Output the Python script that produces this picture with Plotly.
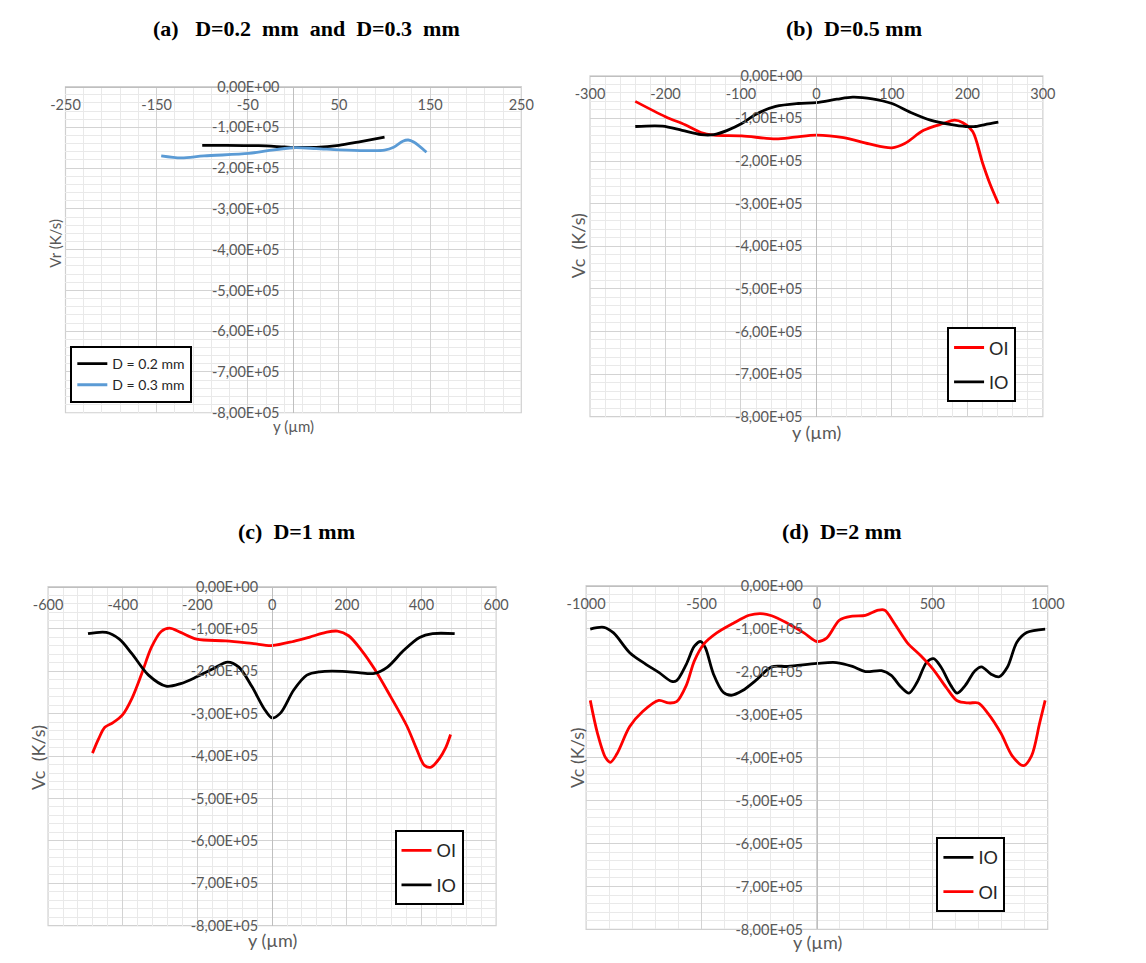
import plotly.graph_objects as go

W, H = 1146, 963

# ---- data: position y (µm) and cooling rate (K/s) ----
a_y_02 = [-100, -75, -38, -10, 0, 25, 50, 71, 100]
a_v_02 = [-1.44e5, -1.44e5, -1.45e5, -1.48e5, -1.49e5, -1.49e5, -1.44e5, -1.36e5, -1.24e5]
a_y_03 = [-145, -123, -98, -49, -28, 0, 25, 50, 78, 100, 110, 120, 126, 132, 146]
a_v_03 = [-1.70e5, -1.75e5, -1.70e5, -1.64e5, -1.57e5, -1.50e5, -1.52e5, -1.55e5, -1.57e5,
          -1.56e5, -1.49e5, -1.34e5, -1.31e5, -1.36e5, -1.61e5]

b_y_oi = [-240, -200, -174, -153, -136, -99, -54, -29, 0, 36, 70, 100, 117, 142, 168, 183,
          194, 207, 220, 230, 241]
b_v_oi = [-0.60e5, -0.96e5, -1.15e5, -1.33e5, -1.39e5, -1.41e5, -1.48e5, -1.44e5, -1.39e5,
          -1.45e5, -1.60e5, -1.69e5, -1.59e5, -1.28e5, -1.12e5, -1.04e5, -1.10e5, -1.31e5,
          -2.04e5, -2.54e5, -3.00e5]
b_y_io = [-240, -204, -178, -153, -136, -118, -99, -80, -54, -24, 0, 27, 48, 74, 100, 125,
          151, 177, 198, 211, 228, 241]
b_v_io = [-1.19e5, -1.18e5, -1.28e5, -1.38e5, -1.38e5, -1.28e5, -1.12e5, -0.90e5, -0.72e5,
          -0.65e5, -0.63e5, -0.55e5, -0.50e5, -0.54e5, -0.65e5, -0.86e5, -1.04e5, -1.14e5,
          -1.19e5, -1.19e5, -1.13e5, -1.09e5]

c_y_oi = [-481, -465, -448, -426, -400, -375, -349, -323, -297, -275, -245, -202, -124, -54,
          0, 58, 101, 144, 175, 205, 240, 274, 317, 361, 387, 408, 426, 447, 465, 478]
c_v_oi = [-3.93e5, -3.60e5, -3.32e5, -3.21e5, -3.02e5, -2.63e5, -2.05e5, -1.43e5, -1.06e5,
          -0.98e5, -1.08e5, -1.24e5, -1.28e5, -1.34e5, -1.39e5, -1.29e5, -1.19e5, -1.08e5,
          -1.05e5, -1.16e5, -1.51e5, -1.94e5, -2.59e5, -3.29e5, -3.83e5, -4.22e5, -4.26e5,
          -4.07e5, -3.80e5, -3.49e5]
c_y_io = [-493, -444, -409, -375, -331, -284, -245, -202, -158, -119, -89, -54, -20, 0, 23,
          58, 93, 127, 188, 231, 274, 309, 352, 395, 430, 489]
c_v_io = [-1.11e5, -1.08e5, -1.24e5, -1.59e5, -2.09e5, -2.35e5, -2.29e5, -2.13e5, -1.94e5,
          -1.78e5, -1.90e5, -2.36e5, -2.90e5, -3.10e5, -2.98e5, -2.44e5, -2.09e5, -2.01e5,
          -2.00e5, -2.03e5, -2.05e5, -1.90e5, -1.51e5, -1.20e5, -1.11e5, -1.11e5]

d_y_io = [-982, -923, -881, -811, -741, -685, -629, -608, -566, -531, -503, -483, -448, -406,
          -371, -322, -266, -196, -126, 0, 84, 154, 210, 280, 322, 364, 399, 434, 476, 506,
          538, 580, 608, 643, 685, 713, 755, 790, 825, 867, 909, 989]
d_v_io = [-1.01e5, -0.97e5, -1.10e5, -1.56e5, -1.83e5, -2.02e5, -2.23e5, -2.21e5, -1.83e5,
          -1.41e5, -1.30e5, -1.45e5, -2.06e5, -2.48e5, -2.55e5, -2.44e5, -2.21e5, -1.89e5,
          -1.88e5, -1.81e5, -1.79e5, -1.88e5, -2.00e5, -1.98e5, -2.09e5, -2.36e5, -2.50e5,
          -2.25e5, -1.78e5, -1.70e5, -1.90e5, -2.32e5, -2.50e5, -2.32e5, -1.98e5, -1.89e5,
          -2.06e5, -2.12e5, -1.90e5, -1.31e5, -1.09e5, -1.01e5]
d_y_oi = [-982, -951, -916, -895, -867, -811, -755, -685, -643, -608, -566, -531, -490, -434,
          -364, -294, -245, -196, -126, -56, 0, 42, 98, 154, 210, 266, 294, 336, 392, 448,
          503, 559, 608, 657, 699, 741, 797, 846, 895, 930, 965, 989]
d_v_oi = [-2.67e5, -3.43e5, -4.00e5, -4.11e5, -3.92e5, -3.28e5, -2.93e5, -2.67e5, -2.73e5,
          -2.70e5, -2.32e5, -1.75e5, -1.36e5, -1.10e5, -0.88e5, -0.69e5, -0.65e5, -0.70e5,
          -0.88e5, -1.10e5, -1.30e5, -1.22e5, -0.80e5, -0.71e5, -0.69e5, -0.57e5, -0.57e5,
          -0.88e5, -1.33e5, -1.62e5, -1.94e5, -2.36e5, -2.68e5, -2.73e5, -2.73e5, -2.97e5,
          -3.43e5, -3.96e5, -4.19e5, -3.96e5, -3.20e5, -2.67e5]

# ---- tick labels ----
x_ticks_a = [-250, -150, -50, 50, 150, 250]
x_ticks_b = [-300, -200, -100, 0, 100, 200, 300]
x_ticks_c = [-600, -400, -200, 0, 200, 400, 600]
x_ticks_d = [-1000, -500, 0, 500, 1000]
v_ticks = [0, -1e5, -2e5, -3e5, -4e5, -5e5, -6e5, -7e5, -8e5]
v_tick_text = ["0,00E+00", "-1,00E+05", "-2,00E+05", "-3,00E+05", "-4,00E+05",
               "-5,00E+05", "-6,00E+05", "-7,00E+05", "-8,00E+05"]

RED, BLACK, BLUE = "#FF0000", "#000000", "#5B9BD5"
SANS = "Lato, 'Open Sans', sans-serif"
TICK_FONT = dict(family=SANS, size=14.5, color="#595959")
GRID_MAJOR, GRID_MINOR = "#D3D3D3", "#E9E9E9"
NB = "\u00a0"

# panel layout in pixels: plot box (left, right, top, bottom)
panels = [
    dict(box=(47, 518, 79, 411), xticks=x_ticks_a, xminor=20,
         title=f"(a){NB*3}D=0.2{NB*2}mm{NB*2}and{NB*2}D=0.3{NB*2}mm", title_xy=(296, 20),
         ytitle="Vr (K/s)", ytitle_xy=(36, 238), ytitle_size=15,
         xtitle_xy=(283, 425), xtitle_size=15),
    dict(box=(589, 1057, 68, 415), xticks=x_ticks_b, xminor=20,
         title=f"(b){NB*2}D=0.5 mm", title_xy=(862, 20),
         ytitle=f"Vc{NB*2}(K/s)", ytitle_xy=(576, 241), ytitle_size=18,
         xtitle_xy=(823, 431), xtitle_size=18),
    dict(box=(29, 492, 588, 933), xticks=x_ticks_c, xminor=40,
         title=f"(c){NB*2}D=1 mm", title_xy=(286, 532),
         ytitle=f"Vc{NB*2}(K/s)", ytitle_xy=(18, 762), ytitle_size=18,
         xtitle_xy=(261, 948), xtitle_size=18),
    dict(box=(585, 1062, 587, 937), xticks=x_ticks_d, xminor=100,
         title=f"(d){NB*2}D=2 mm", title_xy=(849, 532),
         ytitle="Vc (K/s)", ytitle_xy=(575, 762), ytitle_size=18,
         xtitle_xy=(824, 950), xtitle_size=18),
]

series = [
    # (panel index, x, y, name, color)
    (0, a_y_02, a_v_02, "D = 0.2 mm", BLACK),
    (0, a_y_03, a_v_03, "D = 0.3 mm", BLUE),
    (1, b_y_oi, b_v_oi, "OI", RED),
    (1, b_y_io, b_v_io, "IO", BLACK),
    (2, c_y_oi, c_v_oi, "OI", RED),
    (2, c_y_io, c_v_io, "IO", BLACK),
    (3, d_y_io, d_v_io, "IO", BLACK),
    (3, d_y_oi, d_v_oi, "OI", RED),
]

fig = go.Figure()
legend_ids = ["legend", "legend2", "legend3", "legend4"]

for k, (p, xs, ys, name, color) in enumerate(series):
    sfx = "" if p == 0 else str(p + 1)
    fig.add_trace(go.Scatter(
        x=xs, y=ys, name=name, mode="lines",
        line=dict(color=color, width=2.8, shape="spline", smoothing=0.9),
        xaxis="x" + sfx, yaxis="y" + sfx,
        legend=legend_ids[p], legendgroup=f"g{k}",
    ))

layout = dict(
    width=W, height=H, margin=dict(l=0, r=0, t=0, b=0),
    paper_bgcolor="white", plot_bgcolor="white",
    showlegend=True, annotations=[], shapes=[],
)

for i, pn in enumerate(panels):
    sfx = "" if i == 0 else str(i + 1)
    left, right, top, bottom = pn["box"]
    xt = pn["xticks"]
    xlo, xhi = xt[0], xt[-1]
    layout["xaxis" + sfx] = dict(
        domain=[left / W, right / W], range=[xlo, xhi],
        anchor="free", position=1 - top / H, side="bottom",
        tickmode="array", tickvals=xt, ticktext=[str(v) for v in xt],
        tickfont=TICK_FONT, ticks="", ticklabelstandoff=5,
        showgrid=True, gridcolor=GRID_MAJOR, gridwidth=1,
        minor=dict(tickmode="linear", tick0=xlo, dtick=pn["xminor"],
                   showgrid=True, gridcolor=GRID_MINOR, gridwidth=1),
        showline=True, linecolor="#BFBFBF", linewidth=1,
        zeroline=False, fixedrange=True,
    )
    layout["yaxis" + sfx] = dict(
        domain=[1 - bottom / H, 1 - top / H], range=[-8e5, 0],
        anchor="free", position=(left + right) / 2 / W, side="left",
        tickmode="array", tickvals=v_ticks, ticktext=v_tick_text,
        tickfont=TICK_FONT, ticks="", ticklabelstandoff=11,
        showgrid=True, gridcolor=GRID_MAJOR, gridwidth=1,
        minor=dict(tickmode="linear", tick0=0, dtick=2e4,
                   showgrid=True, gridcolor=GRID_MINOR, gridwidth=1),
        showline=True, linecolor="#BFBFBF", linewidth=1,
        zeroline=False, fixedrange=True,
    )
    # plot-area frame
    layout["shapes"].append(dict(
        type="rect", xref=f"x{sfx} domain", yref=f"y{sfx} domain",
        x0=0, x1=1, y0=0, y1=1, line=dict(color="#D0D0D0", width=1.2),
        layer="below",
    ))
    # panel title
    tx, ty = pn["title_xy"]
    layout["annotations"].append(dict(
        text=pn["title"], xref="paper", yref="paper", x=tx / W, y=1 - ty / H,
        xanchor="center", yanchor="middle", showarrow=False,
        font=dict(family="'Liberation Serif', 'Times New Roman', serif", size=22,
                  color="black", weight="bold"),
    ))
    # axis titles
    yx, yy = pn["ytitle_xy"]
    layout["annotations"].append(dict(
        text=pn["ytitle"], xref="paper", yref="paper", x=yx / W, y=1 - yy / H,
        xanchor="center", yanchor="middle", showarrow=False, textangle=-90,
        font=dict(family=SANS, size=pn["ytitle_size"], color="#595959"),
    ))
    xx, xy = pn["xtitle_xy"]
    layout["annotations"].append(dict(
        text="y (µm)", xref="paper", yref="paper", x=xx / W, y=1 - xy / H,
        xanchor="center", yanchor="middle", showarrow=False,
        font=dict(family=SANS, size=pn["xtitle_size"], color="#595959"),
    ))

legend_common = dict(
    bgcolor="white", bordercolor="black", borderwidth=2,
    xanchor="left", yanchor="top", traceorder="grouped",
)
layout["legend"] = dict(legend_common, x=52 / W, y=1 - 343 / H, tracegroupgap=0,
                        font=dict(family=SANS, size=14, color="#262626"))
for lid, (lx, ly) in zip(legend_ids[1:], [(958, 324), (387, 836), (947, 843)]):
    layout[lid] = dict(legend_common, x=lx / W, y=1 - ly / H, tracegroupgap=8,
                       font=dict(family=SANS, size=18, color="#262626"))

fig.update_layout(**layout)
fig.write_html("out.html")
